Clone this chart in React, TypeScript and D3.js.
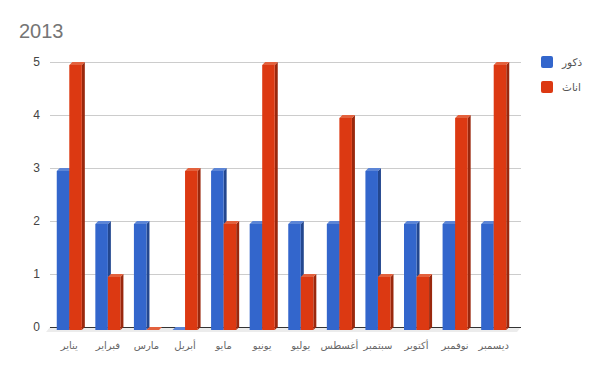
import * as d3 from 'd3';

const W = 600;
const H = 371;
const PLOT = { left: 50, right: 513, top: 62, bottom: 327, gridRight: 521 };
const DEPTH = 3;

const months = ['يناير', 'فبراير', 'مارس', 'أبريل', 'مايو', 'يونيو', 'يوليو', 'أغسطس', 'سبتمبر', 'أكتوبر', 'نوفمبر', 'ديسمبر'];
const males = [3, 2, 2, 0, 3, 2, 2, 2, 3, 2, 2, 2];
const females = [5, 1, 0, 3, 2, 5, 1, 4, 1, 1, 4, 5];
const seriesNames = ['ذكور', 'اناث'];
const yTicks = [0, 1, 2, 3, 4, 5];

const colors = [
    { front: '#3366cc', side: '#23478f', top: '#5c85d6' },
    { front: '#dc3912', side: '#9a280d', top: '#e3613d' },
];

const FONT = "Arial, 'Liberation Sans', 'DejaVu Sans', sans-serif";
const AR_FONT = "'DejaVu Sans', sans-serif";

const App = () => {
    const x0 = d3.scaleBand<string>().domain(months).range([PLOT.left, PLOT.right]);
    const groupW = x0.bandwidth() * 0.65;
    const x1 = d3.scaleBand<number>().domain([0, 1]).range([0, groupW]);
    const y = d3.scaleLinear().domain([0, 5]).range([PLOT.bottom, PLOT.top]);
    const values = [males, females];
    const w = x1.bandwidth();
    const y0 = y(0);

    const bars = months.map((m, i) => {
        const gx = (x0(m) as number) + (x0.bandwidth() - groupW) / 2;
        return values.map((vals, s) => {
            const x = gx + (x1(s) as number);
            const yv = y(vals[i]);
            const c = colors[s];
            const side = [[x + w, yv + DEPTH], [x + w + DEPTH, yv], [x + w + DEPTH, y0], [x + w, y0 + DEPTH]];
            const top = [[x, yv + DEPTH], [x + DEPTH, yv], [x + w + DEPTH, yv], [x + w, yv + DEPTH]];
            return (
                <g key={`${i}-${s}`}>
                    <polygon points={side.join(' ')} fill={c.side} />
                    {vals[i] > 0 && <rect x={x} y={yv + DEPTH} width={w} height={y0 - yv} fill={c.front} />}
                    <polygon points={top.join(' ')} fill={c.top} />
                </g>
            );
        });
    });

    return (
        <svg width={W} height={H} style={{ position: 'absolute', left: 0, top: 0 }} fontFamily={FONT}>
            <rect width={W} height={H} fill="#fff" />
            <text x={19} y={38} fontSize={20} fill="#757575">2013</text>
            {yTicks.map((t) => (
                <g key={t}>
                    {t > 0 && <line x1={PLOT.left} x2={PLOT.gridRight} y1={y(t) + 0.5} y2={y(t) + 0.5} stroke="#cccccc" />}
                    <text x={40} y={y(t) + 4} fontSize={12} fill="#444" textAnchor="end">{t}</text>
                </g>
            ))}
            <polygon points={`${PLOT.left - 4},${y0 + 5} ${PLOT.left},${y0} ${PLOT.gridRight},${y0} ${PLOT.gridRight - 4},${y0 + 5}`} fill="#ececec" />
            <line x1={PLOT.left} x2={PLOT.gridRight} y1={y0 + 0.5} y2={y0 + 0.5} stroke="#333" />
            {bars}
            {months.map((m) => (
                <text key={m} x={(x0(m) as number) + x0.bandwidth() / 2} y={349} fontSize={10} fontFamily={AR_FONT} fill="#666" textAnchor="middle">{m}</text>
            ))}
            {seriesNames.map((n, s) => (
                <g key={n}>
                    <rect x={541} y={56 + s * 25} width={12} height={12} rx={2} fill={colors[s].front} />
                    <text x={562} y={66 + s * 25} fontSize={10.5} fontFamily={AR_FONT} fill="#555" textAnchor="start">{n}</text>
                </g>
            ))}
        </svg>
    );
};

export default App;
